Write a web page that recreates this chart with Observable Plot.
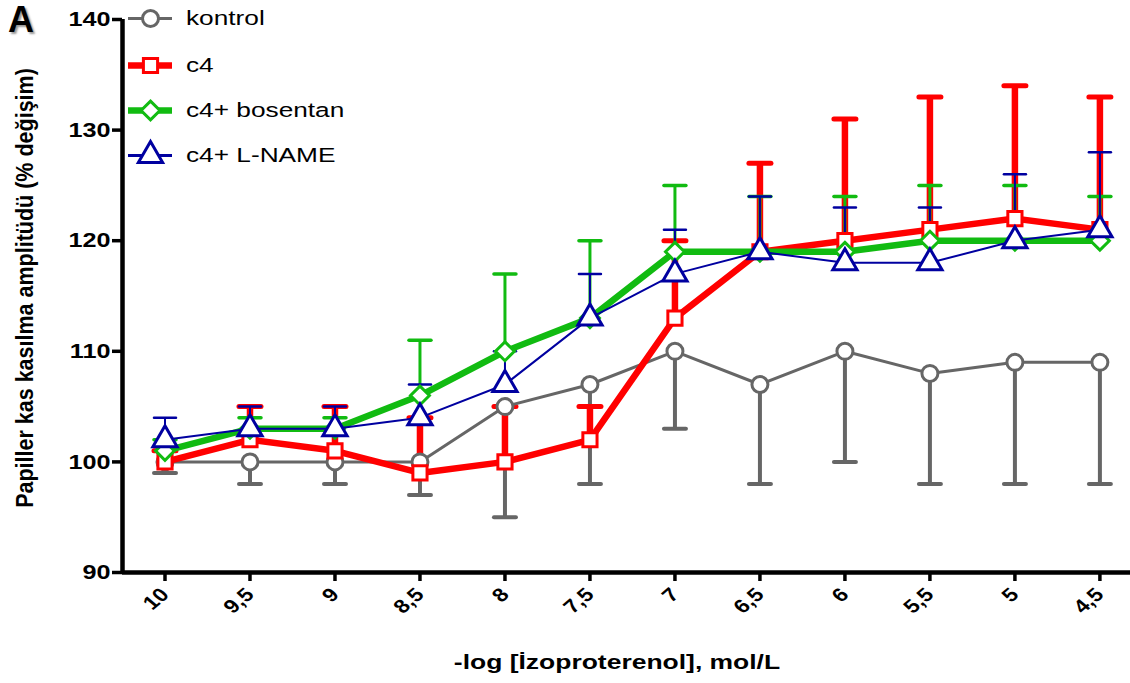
<!DOCTYPE html>
<html><head><meta charset="utf-8">
<script src="https://cdn.jsdelivr.net/npm/d3@7"></script>
<script src="https://cdn.jsdelivr.net/npm/@observablehq/plot@0.6"></script>
<style>
body{margin:0;background:#fff;}
#wrap{position:relative;width:1130px;height:683px;overflow:hidden;font-family:"Liberation Sans",Arial,sans-serif;}
#wrap svg.plot{position:absolute;left:0;top:0;}
.lbl{position:absolute;white-space:nowrap;}
</style></head>
<body><div id="wrap"></div>
<script>
const xVals = [10, 9.5, 9, 8.5, 8, 7.5, 7, 6.5, 6, 5.5, 5, 4.5];
const yTicks = [90, 100, 110, 120, 130, 140];
const seriesNames = ["kontrol", "c4", "c4+ bosentan", "c4+ L-NAME"];
const kontrolMean = [100, 100, 100, 100, 105, 107, 110, 107, 110, 108, 109, 109];
const kontrolErr  = [99, 98, 98, 97, 95, 98, 103, 98, 100, 98, 98, 98];
const c4Mean      = [100, 102, 101, 99, 100, 102, 113, 119, 120, 121, 122, 121];
const c4Err       = [101, 105, 105, 104, 105, 105, 120, 127, 131, 133, 134, 133];
const bosMean     = [101, 103, 103, 106, 110, 113, 119, 119, 119, 120, 120, 120];
const bosErr      = [102, 104, 104, 111, 117, 120, 125, 124, 124, 125, 125, 124];
const lnameMean   = [102, 103, 103, 104, 107, 113, 117, 119, 118, 118, 120, 121];
const lnameErr    = [104, 105, 105, 107, 110, 117, 121, 124, 123, 123, 126, 128];

const styles = [
  {name: seriesNames[0], mean: kontrolMean, err: kontrolErr, color: "#666666", lw: 3, ew: 4, cw: 4, symbol: "circle", r: 8, sw: 3},
  {name: seriesNames[1], mean: c4Mean, err: c4Err, color: "#ff0000", lw: 6.5, ew: 6.5, cw: 5, symbol: "square", r: 8, sw: 3},
  {name: seriesNames[2], mean: bosMean, err: bosErr, color: "#11bb11", lw: 6.5, ew: 3, cw: 3.5, symbol: "diamond2", r: 8.5, sw: 3},
  {name: seriesNames[3], mean: lnameMean, err: lnameErr, color: "#0000a0", lw: 2, ew: 2, cw: 2.5, symbol: "triangle", r: 9, sw: 3}
];

const cap = {draw(ctx, size) { const w = Math.sqrt(size / Math.PI); ctx.moveTo(-w, 0); ctx.lineTo(w, 0); }};
const fmt = d => String(d).replace(".", ",");
const xDomain = [10.25, 4.32];

const marks = [];
for (const s of styles) {
  const rows = xVals.map((x, i) => ({x, y: s.mean[i], e: s.err[i]}));
  marks.push(Plot.ruleX(rows, {x: "x", y1: "y", y2: "e", stroke: s.color, strokeWidth: s.ew}));
  marks.push(Plot.dot(rows, {x: "x", y: "e", symbol: cap, r: 11, stroke: s.color, strokeWidth: s.cw, fill: "none", strokeLinecap: "round"}));
}
for (const s of styles) {
  const rows = xVals.map((x, i) => ({x, y: s.mean[i]}));
  marks.push(Plot.line(rows, {x: "x", y: "y", stroke: s.color, strokeWidth: s.lw}));
  marks.push(Plot.dot(rows, {x: "x", y: "y", symbol: s.symbol, r: s.r, stroke: s.color, strokeWidth: s.sw, fill: "white"}));
}

const chart = Plot.plot({
  width: 1130, height: 683,
  marginLeft: 122, marginRight: 0, marginTop: 19, marginBottom: 111,
  style: {fontFamily: "Liberation Sans, Arial, sans-serif", background: "transparent", overflow: "visible"},
  x: {type: "linear", domain: xDomain},
  y: {domain: [90, 140]},
  marks: [
    Plot.axisY({ticks: yTicks, tickSize: 10, strokeWidth: 3.5, tickPadding: 2, fontSize: 21, fontWeight: "bold", label: null}),
    Plot.axisX({ticks: xVals, tickFormat: fmt, tickSize: 9, strokeWidth: 3.5, tickRotate: -45, tickPadding: 10, fontSize: 19, fontWeight: "bold", label: null}),
    Plot.ruleY([90], {stroke: "black", strokeWidth: 4.5}),
    Plot.ruleX([xDomain[0]], {stroke: "black", strokeWidth: 4.5}),
    ...marks
  ]
});
const wrap = document.getElementById("wrap");
wrap.appendChild(chart);

// Horizontal stretch of tick labels (reference glyphs are wide)
function stretch(sel, k) {
  d3.select(chart).selectAll(sel).each(function() {
    const t = this.getAttribute("transform");
    if (t && t.includes("translate(")) {
      this.setAttribute("transform", t.replace(/(translate\([^)]*\))/, `$1 scale(${k},1)`));
    } else {
      const x = +this.getAttribute("x") || 0, y = +this.getAttribute("y") || 0;
      this.removeAttribute("x"); this.removeAttribute("y");
      this.setAttribute("transform", `translate(${x},${y}) scale(${k},1)` + (t ? " " + t : ""));
    }
  });
}
stretch("g[aria-label='y-axis tick label'] text", 1.2);
stretch("g[aria-label='x-axis tick label'] text", 1.2);

// Legend
const legendY = [18, 65, 110, 155];
styles.forEach((s, i) => {
  const div = document.createElement("div");
  div.className = "lbl";
  div.style.left = "128px"; div.style.top = (legendY[i] - 14) + "px";
  div.style.display = "flex"; div.style.alignItems = "center";
  const sym = Plot.dot([0], {x: () => 0, y: () => 0, symbol: s.symbol, r: s.r, stroke: s.color, strokeWidth: s.sw, fill: "white"});
  const ln = Plot.ruleY([0], {x1: -1, x2: 1, stroke: s.color, strokeWidth: Math.max(s.lw, 3)});
  const svg = Plot.plot({width: 44, height: 28, margin: 0, x: {domain: [-1, 1], axis: null}, y: {domain: [-1, 1], axis: null}, style: {overflow: "visible", background: "transparent"}, marks: [ln, sym]});
  svg.style.position = "static";
  div.appendChild(svg);
  const t = document.createElement("span");
  t.textContent = s.name;
  Object.assign(t.style, {fontSize: "20.5px", marginLeft: "14px", color: "#000", display: "inline-block", transform: "scaleX(1.28)", transformOrigin: "left center"});
  div.appendChild(t);
  wrap.appendChild(div);
});

// Panel letter
const A = document.createElement("div");
A.className = "lbl"; A.textContent = "A";
Object.assign(A.style, {left: "8px", top: "0px", fontSize: "36px", lineHeight: "1.12", fontWeight: "bold", textShadow: "2px 2px 2px #999"});
wrap.appendChild(A);

// Y title (centre 25, 288)
const yt = document.createElement("div");
yt.className = "lbl"; yt.textContent = "Papiller kas kasılma amplitüdü (% değişim)";
Object.assign(yt.style, {width: "600px", height: "26px", lineHeight: "26px", textAlign: "center", left: (25 - 300) + "px", top: (288 - 13) + "px", fontSize: "21.5px", fontWeight: "bold", transform: "rotate(-90deg) scaleY(1.1)"});
wrap.appendChild(yt);

// X title (centre 617, 663)
const xt = document.createElement("div");
xt.className = "lbl"; xt.textContent = "-log [İzoproterenol], mol/L";
Object.assign(xt.style, {width: "600px", height: "26px", lineHeight: "26px", textAlign: "center", left: (617 - 300) + "px", top: (662 - 13) + "px", fontSize: "21px", fontWeight: "bold", transform: "scaleX(1.26)"});
wrap.appendChild(xt);
</script></body></html>
